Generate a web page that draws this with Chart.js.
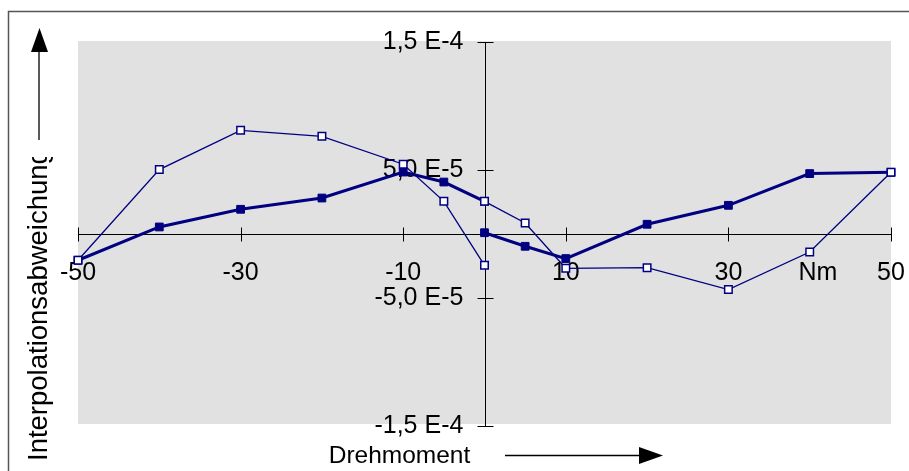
<!DOCTYPE html>
<html>
<head>
<meta charset="utf-8">
<script src="https://cdn.jsdelivr.net/npm/chart.js@4"></script>
<style>
  body { margin: 0; background: #fff; }
  canvas { display: block; }
</style>
</head>
<body>
<canvas id="chart" width="909" height="471"></canvas>
<script>
// torque in Nm, deviation values (null = line break at 0 Nm)
const xFilled = [-50, -40, -30, -20, -10, -5, 0, 0, 0, 5, 10, 20, 30, 40, 50];
const yFilled = [-2.05e-5, 5.5e-6, 1.93e-5, 2.81e-5, 4.84e-5, 4.06e-5, 2.55e-5, null, 0.1e-5, -9.6e-6, -1.92e-5, 7.6e-6, 2.24e-5, 4.72e-5, 4.82e-5];

const xOpen = [-50, -40, -30, -20, -10, -5, 0, 0, 0, 5, 10, 20, 30, 40, 50];
const yOpen = [-2.05e-5, 5.03e-5, 8.1e-5, 7.63e-5, 5.45e-5, 2.55e-5, -2.45e-5, null, 2.55e-5, 8.6e-6, -2.68e-5, -2.63e-5, -4.34e-5, -1.41e-5, 4.82e-5];

const xTickValues = [-50, -30, -10, 10, 30, 41, 50];
const xTickLabels = ["-50", "-30", "-10", "10", "30", "Nm", "50"];
const xMarkValues = [-50, -30, -10, 10, 30, 50];

const yTickValues = [-1.5e-4, -5e-5, 5e-5, 1.5e-4];
const yTickLabels = ["-1,5 E-4", "-5,0 E-5", "5,0 E-5", "1,5 E-4"];

const NAVY = "#000080";
const FONT = "'Liberation Sans', Arial, sans-serif";

function toPoints(xs, ys) {
  return xs.map((x, i) => ({ x, y: ys[i] }));
}

const backdrop = {
  id: "backdrop",
  beforeDraw(chart) {
    const { ctx, chartArea } = chart;
    ctx.save();
    ctx.fillStyle = "#e1e1e1";
    ctx.fillRect(chartArea.left, chartArea.top - 1, chartArea.right - chartArea.left, chartArea.bottom - chartArea.top - 1);
    ctx.restore();
  },
  beforeDatasetsDraw(chart) {
    const { ctx, scales } = chart;
    const x0 = Math.round(scales.x.getPixelForValue(0)) + 0.5;
    const y0 = Math.round(scales.y.getPixelForValue(0)) + 0.5;
    ctx.save();
    ctx.strokeStyle = "#000";
    ctx.lineWidth = 1;
    ctx.beginPath();
    ctx.moveTo(scales.x.getPixelForValue(-50), y0);
    ctx.lineTo(scales.x.getPixelForValue(50), y0);
    ctx.moveTo(x0, scales.y.getPixelForValue(1.5e-4));
    ctx.lineTo(x0, scales.y.getPixelForValue(-1.5e-4));
    xMarkValues.forEach((v) => {
      const px = Math.round(scales.x.getPixelForValue(v)) + 0.5;
      ctx.moveTo(px, y0 - 7);
      ctx.lineTo(px, y0 + 7);
    });
    yTickValues.forEach((v) => {
      const py = Math.round(scales.y.getPixelForValue(v)) + 0.5;
      ctx.moveTo(x0 - 8, py);
      ctx.lineTo(x0 + 8, py);
    });
    ctx.stroke();
    ctx.restore();
  },
  afterDraw(chart) {
    const { ctx } = chart;
    ctx.save();
    // outer frame
    ctx.strokeStyle = "#555";
    ctx.lineWidth = 1.5;
    ctx.strokeRect(8.5, 11.5, 1000, 1000);

    // arrows
    ctx.strokeStyle = "#000";
    ctx.fillStyle = "#000";
    ctx.lineWidth = 1.3;
    ctx.beginPath();
    ctx.moveTo(39, 140);
    ctx.lineTo(39, 50);
    ctx.moveTo(505, 455.5);
    ctx.lineTo(641, 455.5);
    ctx.stroke();
    ctx.beginPath();
    ctx.moveTo(39.5, 28);
    ctx.lineTo(31, 52);
    ctx.lineTo(48, 52);
    ctx.closePath();
    ctx.fill();
    ctx.beginPath();
    ctx.moveTo(663, 455.5);
    ctx.lineTo(639, 447);
    ctx.lineTo(639, 464);
    ctx.closePath();
    ctx.fill();

    // axis titles
    ctx.font = "24.5px " + FONT;
    ctx.textAlign = "center";
    ctx.textBaseline = "alphabetic";
    ctx.fillText("Drehmoment", 399.5, 463);

    // y title is cut off at the top, as in the original
    ctx.beginPath();
    ctx.rect(0, 157, 80, 314);
    ctx.clip();
    ctx.translate(47, 461);
    ctx.rotate(-Math.PI / 2);
    ctx.font = "27.5px " + FONT;
    ctx.textAlign = "left";
    ctx.fillText("Interpolationsabweichung", 0, 0);
    ctx.restore();
  },
};

new Chart(document.getElementById("chart"), {
  type: "line",
  data: {
    datasets: [
      {
        label: "open",
        data: toPoints(xOpen, yOpen),
        borderColor: NAVY,
        borderWidth: 1.3,
        pointStyle: "rect",
        pointRadius: 5.3,
        pointBackgroundColor: "#fff",
        pointBorderColor: NAVY,
        pointBorderWidth: 1.5,
        tension: 0,
        spanGaps: false,
        clip: false,
      },
      {
        label: "filled",
        data: toPoints(xFilled, yFilled),
        borderColor: NAVY,
        borderWidth: 3,
        pointStyle: "rect",
        pointRadius: 5.5,
        pointBackgroundColor: NAVY,
        pointBorderColor: NAVY,
        pointBorderWidth: 1,
        tension: 0,
        spanGaps: false,
        clip: false,
      },
    ],
  },
  options: {
    responsive: false,
    animation: false,
    layout: { padding: { left: 78, top: 42, right: 18, bottom: 45 } },
    plugins: { legend: { display: false }, tooltip: { enabled: false } },
    scales: {
      x: {
        type: "linear",
        min: -50,
        max: 50,
        position: { y: 0 },
        grid: { display: false, drawTicks: true, tickLength: 24 },
        border: { display: false },
        afterBuildTicks: (scale) => {
          scale.ticks = xTickValues.map((v) => ({ value: v }));
        },
        ticks: {
          autoSkip: false,
          maxRotation: 0,
          padding: 0,
          color: "#000",
          font: { family: FONT, size: 25 },
          callback: (value) => xTickLabels[xTickValues.indexOf(value)],
        },
      },
      y: {
        type: "linear",
        min: -1.5e-4,
        max: 1.5e-4,
        // labels sit ~21px left of the axis line (which is drawn at x = 0 by the plugin)
        position: { x: -2.6 },
        grid: { display: false, drawTicks: false },
        border: { display: false },
        afterBuildTicks: (scale) => {
          scale.ticks = yTickValues.map((v) => ({ value: v }));
        },
        ticks: {
          autoSkip: false,
          padding: 0,
          color: "#000",
          font: { family: FONT, size: 25 },
          callback: (value) => yTickLabels[yTickValues.indexOf(value)],
        },
      },
    },
  },
  plugins: [backdrop],
});
</script>
</body>
</html>
